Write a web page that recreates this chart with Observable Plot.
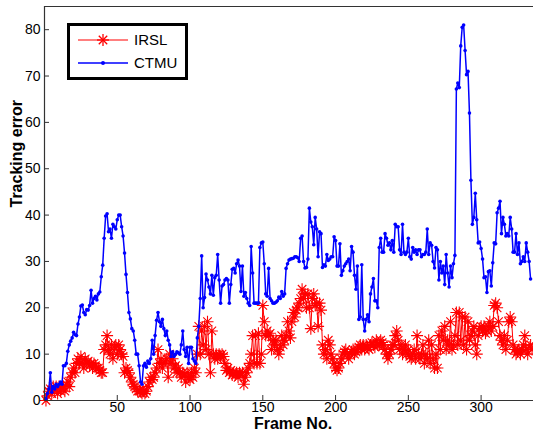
<!DOCTYPE html>
<html><head><meta charset="utf-8">
<script src="https://cdn.jsdelivr.net/npm/d3@7"></script>
<script src="https://cdn.jsdelivr.net/npm/@observablehq/plot@0.6"></script>
<style>
body{margin:0;background:#fff;}
#wrap{position:relative;width:533px;height:429px;overflow:hidden;font-family:"Liberation Sans",Arial,sans-serif;background:#fff;}
#legend{position:absolute;left:67px;top:23px;width:115px;height:51px;border:3px solid #000;background:#fff;}
#legend .row{position:absolute;left:0;height:20px;}
#legend svg{position:absolute;left:0;top:0;}
#legend span{position:absolute;left:64px;font-size:15px;line-height:20px;color:#000;}
</style></head><body>
<div id="wrap"><div id="chart"></div>
<div id="legend">
  <div class="row" style="top:4px;width:110px"><svg width="60" height="20"><line x1="8" y1="10" x2="58" y2="10" stroke="#ff0000" stroke-width="1.2"/><g stroke="#ff0000" stroke-width="1.3"><line x1="27" y1="10" x2="39" y2="10"/><line x1="33" y1="4" x2="33" y2="16"/><line x1="28.8" y1="5.8" x2="37.2" y2="14.2"/><line x1="28.8" y1="14.2" x2="37.2" y2="5.8"/></g></svg><span style="top:0">IRSL</span></div>
  <div class="row" style="top:27px;width:110px"><svg width="60" height="20"><line x1="8" y1="10" x2="58" y2="10" stroke="#0000ff" stroke-width="1.5"/><circle cx="33" cy="10" r="2" fill="#0000ff"/></svg><span style="top:0">CTMU</span></div>
</div>
</div>
<script>
const seriesNames = ["IRSL", "CTMU"];
const xTicks = [50, 100, 150, 200, 250, 300];
const yTicks = [0, 10, 20, 30, 40, 50, 60, 70, 80];

const ctmu = [0.4,1.5,2.5,6,1.8,3,2.5,3.5,3,3.5,4,3.5,7.5,7.5,8,10.6,12,12.8,13.5,14.7,14.2,14,16.5,18,20.4,20.6,19,18.5,19.6,19.5,
20.5,23.8,21,22,22.5,21.7,23,23.4,26.7,29.2,35,39.8,40.3,36.4,37,35,38,37.5,37,39,
40,40,37.5,35.5,31.8,27.2,23.3,19,17.6,15.5,15,13,10,10,7.5,4,3.5,7.5,8,7.2,
8.5,8,9,13,10,14,17.3,19,17,16,17.5,15.5,14,15,13,12,9.5,10.5,9.5,10,
10.5,10.3,10,12,15,11,9.5,11.5,8,11.5,11.5,9,8.5,8,13.5,16,22,31.2,20,22.2,
27.3,26,24.5,23,27,22.7,26.5,27,31.5,26,21,24.7,25,26,26.3,26,21,25,28.3,28.5,
27.5,29.5,30.3,29,23.5,29,22.5,23.3,22,21,20.5,33.2,27.5,21,21,21,21,33,34,34.2,
29.5,23,22.5,28.5,22,21.5,21,21,21.2,21.5,22.3,22,23.5,22.5,23,28.5,29.5,30.3,30.5,30.6,
30.7,31,31,30.8,30,35,35.5,30,28.6,28.7,30.5,41.5,38.5,37.5,33.6,39.5,37,31,36.4,36,
28.7,29.3,29,31.5,30.2,30.5,31,31,35.3,34.5,29,29,33.8,27,28,29,29.5,30,30.5,28,
33.2,32,27,24,29,17.5,18,29.3,17.5,15,17.5,18.5,17,23,24.5,26.3,21.5,21.5,20,33,
35,32,32,36,35,33.5,34,32.5,34.5,32,38,37.5,37.5,32.5,31.5,38,32,31.5,32,35,
31,30.5,33,32,32.5,31.5,32.5,32.5,31,31.5,31.5,32,37,31.5,34,33.5,30,28.6,33,32.5,
26,30,27.5,29,25,31.5,27.5,24.5,29,26.5,29.5,31.3,67.2,68.5,67.5,76.5,80.5,81,75.5,70.3,
71,62,47.5,38,39.5,44.7,39,34,34.2,32.8,30.5,26.5,26.7,23.3,27.8,28,24.7,29.7,34,33.8,
40.5,41.5,43,36,39.5,38,35.5,36,35.5,39.5,37,32,32,36,31.5,34,29.5,30,31,30,
34,32,30,26.2];

const irsl = [0,1,2,2.5,1.5,3,2,3,1.5,3,2,2.5,3,2,3.5,4,3,5,6,7,
6,8,9,8,9.5,8,7,9,8,8.5,7.5,8,7,8,7.5,7,7,6.5,6,6,
11,12,14,11,10,12,9,11.5,12,10,12,11,10,9.5,6,7,6.5,6,5,4,
3.5,3,2.5,2,2,2,1.5,2,1.5,2,3,4,5,4.5,5,6,7,11,8,9,
7,8,8.5,9,5,10,8,9,7,7.5,6,7,6,5,6,5.5,4,6,5,4.5,
6,5,7,6,10,16,10,15,12,16,11,17,10,6,15,10,9,10,9,10,
9.5,10,9.5,8,6.5,7,6,6.5,5.5,6,5.5,6,5,6,5.5,6,3.5,5,6,7,
8,10,14,8,14,8,14.5,8,10,20.5,17,14,15,14,14.5,11,13,12,13,11,
10,11.5,14,12,13,14,17,15,13.5,17,19,18,19.5,20,21,22,24,22,23,20,
23,20,15.5,22,23,20.5,21,16,21,19.5,12,10,11,9,13,12,10,9,8,7,
6.5,7,8,9,10,10.5,11,10,9,10,10.5,11,10,10.5,11,11.5,12,11,12,11,
12,11.5,11,12,12.5,12,11.5,13,12,12,13,12.5,12,11,10,9,10,11,12,12,
14,15,13,11,12,10,11,12,10,11,9.5,9,10,11,9,14,10,9,10,12,
8,10,9,13,8,12,9,7,10,7,14,11,15,13,16,11,13,12,17,11,
12,14,19,12,19,13,18,12,18,11,17,13,14,15,16,12,10,14,15.5,16,
15,16,14.5,15,16,17,15,16,20.5,21,20,17,14,13,12,14,11,13,17,18,
17,12,11,10,10.5,11,10,11,12,14,11,10,11.5,12,11];

const rows = [];
irsl.forEach((v, i) => rows.push({series: seriesNames[0], frame: i + 1, value: v}));
ctmu.forEach((v, i) => rows.push({series: seriesNames[1], frame: i + 1, value: v}));
const irslRows = rows.filter(d => d.series === "IRSL");
const ctmuRows = rows.filter(d => d.series === "CTMU");

const star8 = {
  draw(ctx, size) {
    const r = Math.sqrt(size / Math.PI);
    const d = r * Math.SQRT1_2;
    ctx.moveTo(-r, 0); ctx.lineTo(r, 0);
    ctx.moveTo(0, -r); ctx.lineTo(0, r);
    ctx.moveTo(-d, -d); ctx.lineTo(d, d);
    ctx.moveTo(-d, d); ctx.lineTo(d, -d);
  }
};

const chart = Plot.plot({
  width: 533, height: 429,
  marginLeft: 44, marginRight: 0, marginTop: 6, marginBottom: 29,
  style: {fontFamily: "'Liberation Sans', Arial, sans-serif", fontSize: "14px", background: "#fff", color: "#000"},
  x: {domain: [0, 336]},
  y: {domain: [0, 85]},
  marks: [
    Plot.line(irslRows, {x: "frame", y: "value", stroke: "#ff0000", strokeWidth: 1}),
    Plot.dot(irslRows, {x: "frame", y: "value", symbol: star8, r: 6, stroke: "#ff0000", fill: "none", strokeWidth: 1.1}),
    Plot.line(ctmuRows, {x: "frame", y: "value", stroke: "#0000ff", strokeWidth: 1.5}),
    Plot.dot(ctmuRows, {x: "frame", y: "value", r: 1.8, fill: "#0000ff", stroke: "none"}),
    Plot.ruleY([0], {stroke: "#333", strokeWidth: 1.2}),
    Plot.ruleY([85], {stroke: "#333", strokeWidth: 1.2}),
    Plot.ruleX([0], {stroke: "#333", strokeWidth: 1.2}),
    Plot.axisX(xTicks, {tickSize: -5, tickPadding: 7, label: null, stroke: "#333"}),
    Plot.axisY(yTicks, {tickSize: -5, tickPadding: 9, label: null, stroke: "#333"}),
    Plot.text(["Frame No."], {frameAnchor: "bottom", dy: 28, dx: 4, fontWeight: "bold", fontSize: 16, fill: "#000"}),
    Plot.text(["Tracking error"], {frameAnchor: "left", dx: -28, dy: 4, rotate: -90, fontWeight: "bold", fontSize: 16, fill: "#000"})
  ]
});
document.getElementById("chart").append(chart);
</script>
</body></html>
